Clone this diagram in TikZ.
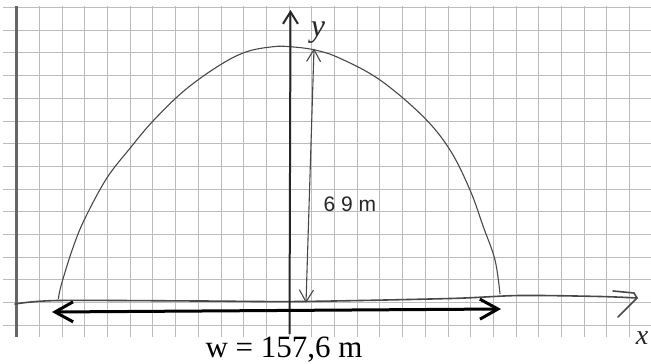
\documentclass[tikz,border=0pt]{standalone}
\usepackage{fontspec}
\setmainfont{Liberation Serif}
\setsansfont{Liberation Sans}
\usetikzlibrary{arrows.meta}

\definecolor{gridgray}{RGB}{188,188,188}
\definecolor{pencil}{RGB}{72,72,72}

\begin{document}
\begin{tikzpicture}[x=1pt,y=-1pt,>=Latex]
    \tikzset{
      gridline/.style={draw=gridgray, line width=0.9pt},
      curve/.style={draw=pencil, line width=1.1pt},
      axis/.style={draw=pencil, line width=1.6pt, line cap=round},
      yaxis/.style={draw=black!85, line width=2pt, -{Straight Barb[length=12pt,width=15pt]}},
      heightarrow/.style={draw=pencil, line width=1.1pt, {Straight Barb[length=12pt,width=14pt]}-{Straight Barb[length=12pt,width=14pt]}},
      spanarrow/.style={draw=black, line width=3pt, {Straight Barb[length=18pt,width=20pt]}-{Straight Barb[length=18pt,width=20pt]}},
      hand/.style={inner sep=0pt, text=black!85}
    }
    \useasboundingbox (0,0) rectangle (651,364);
    % squared paper
    \foreach \i in {1,...,27} {
      \draw[gridline] ({16.7+22.7*\i},6) -- ({16.7+22.7*\i},337);
    }
    \foreach \j in {0,...,14} {
      \draw[gridline] (3,{7.5+22.7*\j}) -- (651,{7.5+22.7*\j});
    }
    \draw[draw=black!60, line width=2.5pt] (16.7,6) -- (16.7,337);
    % arch
    \draw[curve] plot[smooth, tension=0.6] coordinates {
      (58.3,299) (61.7,283.3) (73.3,246.7) (85,218.3) (106.7,178.3)
      (130,148.3) (153.3,120.7) (185,90) (220,65) (246.7,51.7)
      (273.3,46.7) (290,46.7) (315,50) (340,58.3) (380,80)
      (423.3,116.7) (450,150) (470,190) (483.3,226.7) (495,260) (500,294)};
    % axes
    \coordinate (xo) at (15,304);
    \coordinate (xtip) at (637,298);
    \draw[axis] plot[smooth, tension=0.5] coordinates {
      (xo) (58,300.5) (200,301) (300,301.5) (450,298.5) (520,295.5) (600,296.5) (xtip)};
    \draw[axis] (xtip) ++(-24,-7) -- ++(21,2) -- (xtip) -- ++(-19,19);
    \node[hand, font=\itshape\fontsize{28}{30}\selectfont] (xlabel) at (642,338) {x};
    \coordinate (yo) at (289.5,334);
    \coordinate (ytip) at (290.5,10);
    \draw[yaxis] (yo) -- (ytip);
    \node[hand, font=\itshape\fontsize{32}{34}\selectfont] (ylabel) at (318,33) {y};
    % height
    \coordinate (htop) at (314,48.5);
    \coordinate (hbot) at (306,303);
    \draw[heightarrow] (hbot) -- (htop);
    \node[hand, font=\sffamily\fontsize{21}{24}\selectfont] (hlabel) at (350,204) {6 9 m};
    % width
    \coordinate (wl) at (52,312);
    \coordinate (wr) at (501,309);
    \draw[spanarrow] (wl) -- (wr);
    \node[anchor=base, inner sep=0pt, font=\fontsize{31}{34}\selectfont] (wlabel) at (284,357) {w = 157,6 m};
  \end{tikzpicture}
\end{document}
